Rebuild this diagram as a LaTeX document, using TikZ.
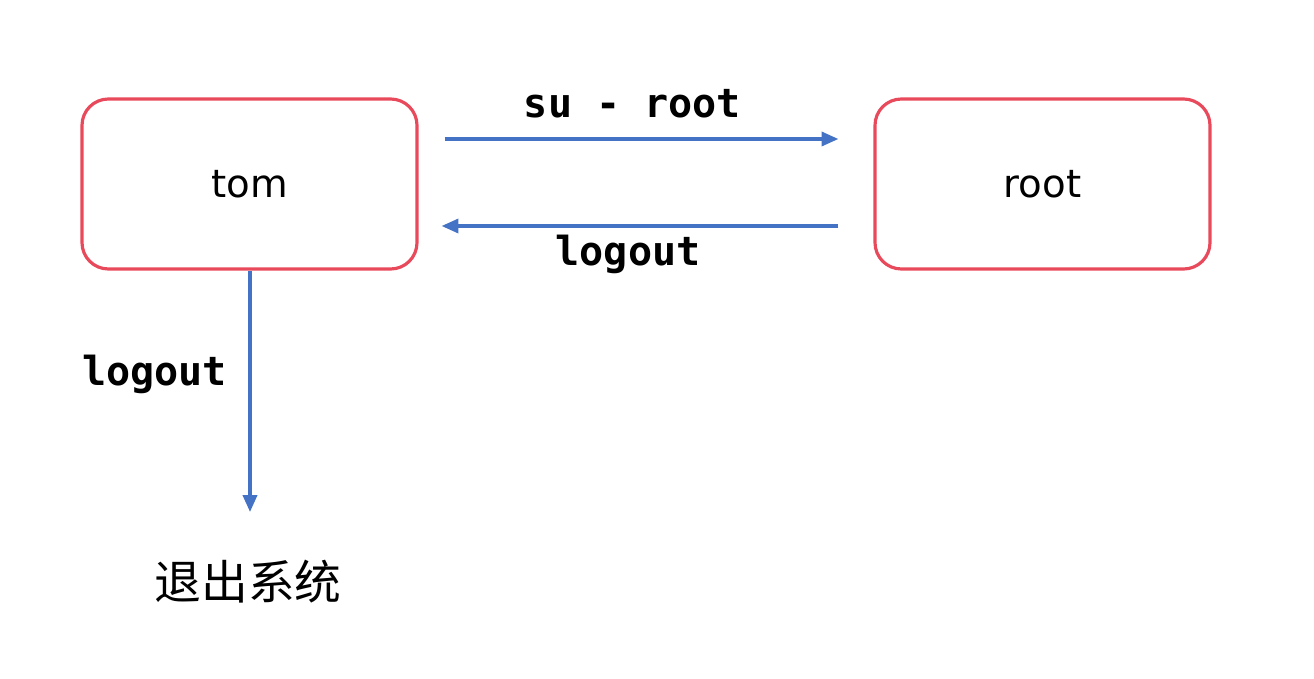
\documentclass[tikz,border=0pt]{standalone}
\usepackage{fontspec}
\setmainfont{DejaVu Sans}
\newfontfamily\labelmono{DejaVu Sans Mono}
\newfontfamily\cjk{Noto Sans CJK SC}
\usepackage{xcolor}
\usetikzlibrary{arrows.meta,positioning}
\definecolor{boxred}{HTML}{E8495B}
\definecolor{arrblue}{HTML}{4472C4}

\begin{document}
\begin{tikzpicture}[
  user/.style={draw=boxred,line width=0.9pt,rectangle,rounded corners=7.5pt,
               minimum width=3.35cm,minimum height=1.70cm,align=center,
               font=\fontsize{11}{13}\selectfont},
  cmd/.style={font=\labelmono\bfseries\fontsize{11.4}{13}\selectfont,
              text=black,inner sep=1pt},
  arr/.style={-{Triangle[length=4.8pt,width=4.0pt]},arrblue,line width=0.95pt}
]
\useasboundingbox (0,0) rectangle (13.14,6.78);
% Users
\node[user] (tom) at (2.495,4.94) {tom};
\node[user] (root) at (10.425,4.94) {root};
% Exit target
\node[font=\cjk\fontsize{13.3}{15}\selectfont,inner sep=1pt] (exit) at (2.48,0.96) {退出系统};
\coordinate (exitin) at (2.50,1.66);
% Arrows between users
\draw[arr] ([xshift=0.26cm,yshift=0.45cm]tom.east) -- ([xshift=-0.35cm,yshift=0.45cm]root.west)
    node[cmd,midway,above=0.16cm,xshift=-0.09cm] (su) {su - root};
\draw[arr] ([xshift=-0.35cm,yshift=-0.42cm]root.west) -- ([xshift=0.23cm,yshift=-0.42cm]tom.east)
    node[cmd,midway,below=0.04cm,xshift=-0.12cm] (back) {logout};
% Logout of tom
\draw[arr] (tom.south -| exitin) -- (exitin)
    node[cmd,pos=0.43,left=0.18cm] (quit) {logout};
\end{tikzpicture}
\end{document}
